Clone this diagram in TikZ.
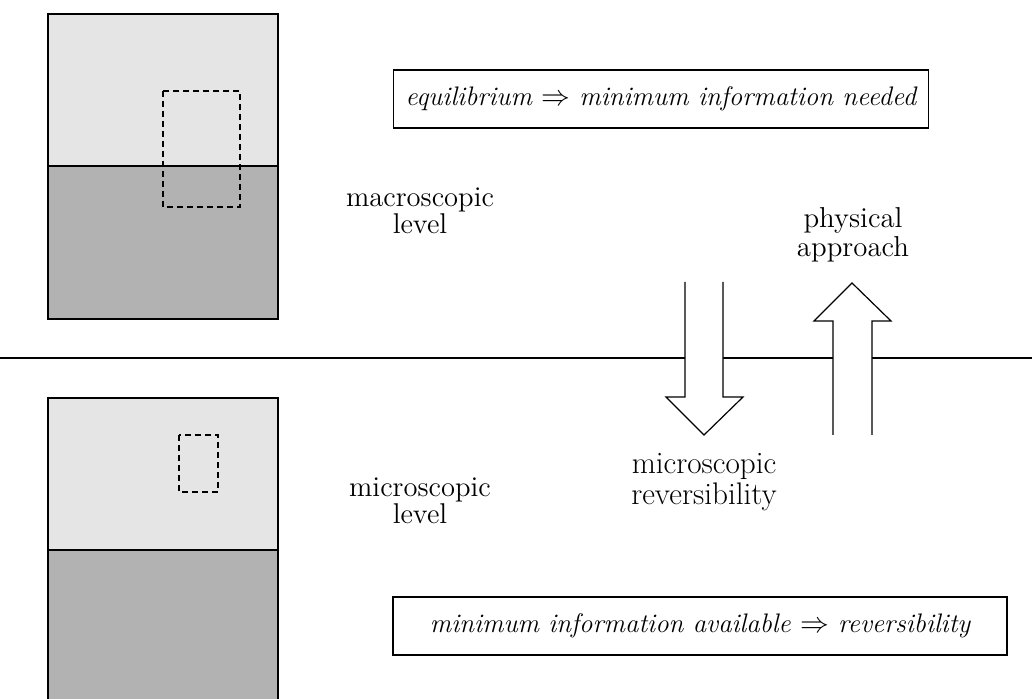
\documentclass[tikz,border=0pt]{standalone}
\usepackage{tikz}
\usetikzlibrary{positioning}
\begin{document}
\begin{tikzpicture}[x=0.5pt,y=-0.5pt,
		frame/.style={line width=0.6pt},
		zoombox/.style={line width=0.6pt,dash pattern=on 3pt off 2pt},
		levellabel/.style={align=center,font=\fontsize{14.3}{13.3}\selectfont},
		arrowlabel/.style={align=center},
		claim/.style={draw,line width=0.6pt,font=\fontsize{13.4}{16}\selectfont\itshape,minimum height=29pt,inner xsep=6pt},
		blockarrow/.style={line width=0.6pt}]
			\clip (0,0) rectangle (1032,699);
			% macroscopic sample
			\fill[black!10] (48,14) rectangle (278,166);
			\fill[black!30] (48,166) rectangle (278,319);
			\draw[frame] (48,14) rectangle (278,319);
			\draw[frame] (48,166) -- (278,166);
			\draw[zoombox] (163,91) rectangle (240,207);
			% microscopic sample
			\fill[black!10] (48,398) rectangle (278,550);
			\fill[black!30] (48,550) rectangle (278,720);
			\draw[frame] (48,398) rectangle (278,720);
			\draw[frame] (48,550) -- (278,550);
			\draw[zoombox] (179,435) rectangle (218,492);
			% dividing line
			\draw[line width=0.8pt] (0,358) -- (1032,358);
			% labels
			\node[levellabel] (macro) at (420,211) {macroscopic\\level};
			\node[levellabel] (micro) at (420,501) {microscopic\\level};
			\node[claim, anchor=west] (equil) at (393,99) {equilibrium $\Rightarrow$ minimum information needed};
			\node[claim, minimum width=307pt] (avail) at (700,626) {minimum information available $\Rightarrow$ reversibility};
			% down arrow
			\fill[white] (685,282) -- (685,397) -- (666,397) -- (704,435) -- (743,397) -- (723,397) -- (723,282) -- cycle;
			\draw[blockarrow] (685,282) -- (685,397) -- (666,397) -- (704,435) -- (743,397) -- (723,397) -- (723,282);
			\node[arrowlabel, font=\fontsize{15.6}{15.5}\selectfont] (revers) at (704,482) {microscopic\\reversibility};
			% up arrow
			\fill[white] (833,435) -- (833,321) -- (814,321) -- (852,283) -- (891,321) -- (872,321) -- (872,435) -- cycle;
			\draw[blockarrow] (833,435) -- (833,321) -- (814,321) -- (852,283) -- (891,321) -- (872,321) -- (872,435);
			\node[arrowlabel, font=\fontsize{14.4}{14.3}\selectfont] (phys) at (853,235) {physical\\approach};
		\end{tikzpicture}
\end{document}
